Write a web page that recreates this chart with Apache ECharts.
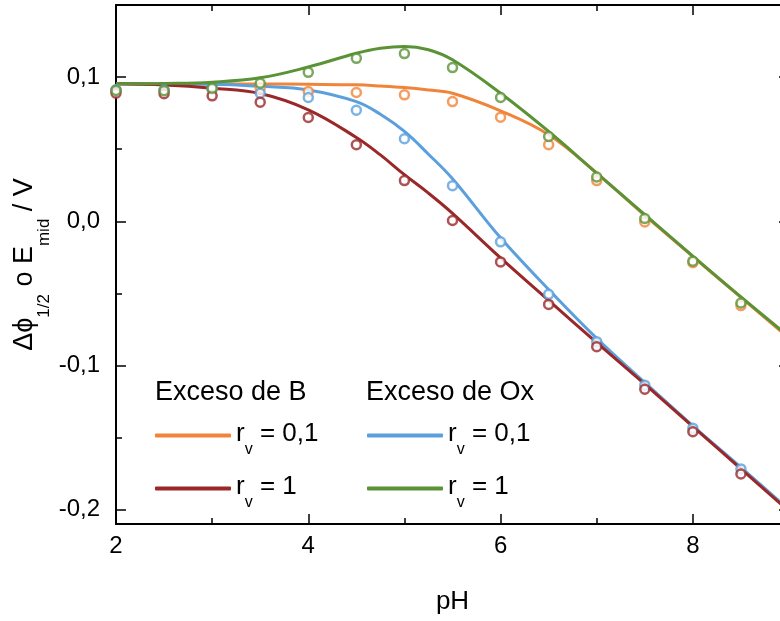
<!DOCTYPE html>
<html>
<head>
<meta charset="utf-8">
<script src="https://cdn.jsdelivr.net/npm/echarts@6/dist/echarts.min.js"></script>
<style>html,body{margin:0;padding:0;background:#fff}#c{width:780px;height:621px}</style>
</head>
<body>
<div id="c"></div>
<script>
const FONT = '"Liberation Sans", Arial, Helvetica, sans-serif';

// Axis ticks / labels
const xMajorTicks = [2, 4, 6, 8];
const xMinorTicks = [3, 5, 7];
const yMajorTicks = [-0.2, -0.1, 0, 0.1];
const yMinorTicks = [-0.15, -0.05, 0.05];

// Measured data points (pH)
const phPoints = [2, 2.5, 3, 3.5, 4, 4.5, 5, 5.5, 6, 6.5, 7, 7.5, 8, 8.5];
const ptsB01  = [0.0910, 0.0905, 0.0915, 0.0925, 0.0900, 0.0893, 0.0877, 0.0830, 0.0722, 0.0531, 0.0282, -0.0005, -0.0288, -0.0585];
const ptsB1   = [0.0888, 0.0884, 0.0870, 0.0826, 0.0720, 0.0531, 0.0282, 0.0005, -0.0282, -0.0577, -0.0870, -0.1165, -0.1460, -0.1753];
const ptsOx01 = [0.0912, 0.0910, 0.0918, 0.0888, 0.0858, 0.0770, 0.0572, 0.0247, -0.0143, -0.0507, -0.0835, -0.1137, -0.1435, -0.1718];
const ptsOx1  = [0.0907, 0.0905, 0.0923, 0.0957, 0.1033, 0.1130, 0.1163, 0.1066, 0.0858, 0.0588, 0.0307, 0.0019, -0.0277, -0.0567];

// Fitted curves
const phLine   = [2, 2.5, 3, 3.5, 4, 4.5, 4.75, 5, 5.25, 5.5, 6, 6.5, 7, 7.5, 8, 8.5, 9];
const lineB01  = [0.0953, 0.0953, 0.0953, 0.0952, 0.0950, 0.0946, 0.0938, 0.0927, 0.0910, 0.0888, 0.0766, 0.0600, 0.0334, 0.0040, -0.0245, -0.0528, -0.0810];
const lineB1   = [0.0953, 0.0945, 0.0923, 0.0886, 0.0773, 0.0581, 0.0460, 0.0323, 0.0195, 0.0055, -0.0254, -0.0549, -0.0842, -0.1130, -0.1424, -0.1718, -0.2010];
const lineOx01 = [0.0953, 0.0952, 0.0950, 0.0936, 0.0911, 0.0830, 0.0742, 0.0623, 0.0465, 0.0295, -0.0115, -0.0473, -0.0812, -0.1119, -0.1419, -0.1707, -0.2000];
const lineOx1  = [0.0953, 0.0956, 0.0965, 0.0995, 0.1070, 0.1165, 0.1200, 0.1213, 0.1190, 0.1120, 0.0888, 0.0623, 0.0334, 0.0046, -0.0242, -0.0525, -0.0800];

const COL_B01 = '#F0843A';
const COL_B1 = '#9A2828';
const COL_OX01 = '#5BA0DC';
const COL_OX1 = '#5A9236';

const pairs = (xs, ys) => xs.map((x, i) => [x, ys[i]]);

const chart = echarts.init(document.getElementById('c'));

const commonX = { type: 'value', min: 2, max: 9, gridIndex: 0, splitLine: { show: false } };
const commonY = { type: 'value', min: -0.21, max: 0.15, gridIndex: 0, splitLine: { show: false } };
const tickStyle = { color: '#000', width: 1.5 };

function lineSeries(name, ys, color) {
  return {
    name: name, type: 'line', data: pairs(phLine, ys), xAxisIndex: 0, yAxisIndex: 0,
    smooth: 0.4, symbol: 'none', showSymbol: false, color: color,
    lineStyle: { color: color, width: 3 }, silent: true, z: 2
  };
}
function pointSeries(name, ys, color) {
  return {
    name: name, type: 'scatter', data: pairs(phPoints, ys), xAxisIndex: 0, yAxisIndex: 0,
    symbol: 'circle', symbolSize: 9,
    itemStyle: { color: '#fff', borderColor: color, borderWidth: 2.5 }, silent: true, z: 3
  };
}

const legendRich = {
  r: { fontSize: 26, fontFamily: FONT, color: '#000', verticalAlign: 'top', padding: [8, 0, 11, 0] },
  v: { fontSize: 16, fontFamily: FONT, color: '#000', verticalAlign: 'bottom' }
};
const legendFmt = name => name.endsWith('01') ? '{r|r}{v|v}{r| = 0,1}' : '{r|r}{v|v}{r| = 1}';

chart.setOption({
  animation: false,
  backgroundColor: '#fff',
  grid: { left: 116, top: 5, width: 673, height: 519, containLabel: false, outerBoundsMode: 'none' },
  title: [
    { text: 'Exceso de B', left: 155, top: 379, padding: 0,
      textStyle: { fontSize: 27, fontWeight: 'normal', color: '#000', fontFamily: FONT } },
    { text: 'Exceso de Ox', left: 366, top: 379, padding: 0,
      textStyle: { fontSize: 27, fontWeight: 'normal', color: '#000', fontFamily: FONT } }
  ],
  legend: [
    { data: ['B_01', 'B_1'], orient: 'vertical', left: 155, top: 421, padding: 0, itemGap: 16,
      icon: 'roundRect', itemWidth: 76, itemHeight: 4, selectedMode: false,
      formatter: legendFmt, textStyle: { rich: legendRich } },
    { data: ['Ox_01', 'Ox_1'], orient: 'vertical', left: 367, top: 421, padding: 0, itemGap: 16,
      icon: 'roundRect', itemWidth: 76, itemHeight: 4, selectedMode: false,
      formatter: legendFmt, textStyle: { rich: legendRich } }
  ],
  xAxis: [
    Object.assign({}, commonX, {
      position: 'bottom',
      axisLine: { show: true, onZero: false, lineStyle: { color: '#000', width: 2 } },
      axisTick: { show: true, inside: true, length: 10, lineStyle: tickStyle, customValues: xMajorTicks },
      axisLabel: { show: true, customValues: xMajorTicks, fontSize: 24, color: '#000', margin: 10, fontFamily: FONT },
      name: 'pH', nameLocation: 'middle', nameGap: 65, nameMoveOverlap: false,
      nameTextStyle: { fontSize: 26, color: '#000', fontFamily: FONT }
    }),
    Object.assign({}, commonX, {
      position: 'bottom',
      axisLine: { show: false, onZero: false },
      axisTick: { show: true, inside: true, length: 6, lineStyle: tickStyle, customValues: xMinorTicks },
      axisLabel: { show: false }
    }),
    Object.assign({}, commonX, {
      position: 'top',
      axisLine: { show: true, onZero: false, lineStyle: { color: '#000', width: 2 } },
      axisTick: { show: true, inside: true, length: 10, lineStyle: tickStyle, customValues: xMajorTicks },
      axisLabel: { show: false }
    }),
    Object.assign({}, commonX, {
      position: 'top',
      axisLine: { show: false, onZero: false },
      axisTick: { show: true, inside: true, length: 6, lineStyle: tickStyle, customValues: xMinorTicks },
      axisLabel: { show: false }
    })
  ],
  yAxis: [
    Object.assign({}, commonY, {
      position: 'left',
      axisLine: { show: true, onZero: false, lineStyle: { color: '#000', width: 2 } },
      axisTick: { show: true, inside: true, length: 10, lineStyle: tickStyle, customValues: yMajorTicks },
      axisLabel: { show: true, customValues: yMajorTicks, fontSize: 24, color: '#000', margin: 16, fontFamily: FONT,
        formatter: v => v.toFixed(1).replace('.', ',') },
      name: '{a|Δϕ}{s|1/2}{a| o E}{s|mid}{a| / V}',
      nameLocation: 'middle', nameGap: 63, nameMoveOverlap: false,
      nameTextStyle: {
        color: '#000', fontFamily: FONT,
        rich: {
          a: { fontSize: 27, fontFamily: FONT, color: '#000', verticalAlign: 'top', padding: [8, 0, 15, 0] },
          s: { fontSize: 17, fontFamily: FONT, color: '#000', verticalAlign: 'bottom' }
        }
      }
    }),
    Object.assign({}, commonY, {
      position: 'left',
      axisLine: { show: false, onZero: false },
      axisTick: { show: true, inside: true, length: 6, lineStyle: tickStyle, customValues: yMinorTicks },
      axisLabel: { show: false }
    }),
    Object.assign({}, commonY, {
      position: 'right',
      axisLine: { show: true, onZero: false, lineStyle: { color: '#000', width: 2 } },
      axisTick: { show: true, inside: true, length: 10, lineStyle: tickStyle, customValues: yMajorTicks },
      axisLabel: { show: false }
    }),
    Object.assign({}, commonY, {
      position: 'right',
      axisLine: { show: false, onZero: false },
      axisTick: { show: true, inside: true, length: 6, lineStyle: tickStyle, customValues: yMinorTicks },
      axisLabel: { show: false }
    })
  ],
  series: [
    lineSeries('B_01', lineB01, COL_B01),
    lineSeries('Ox_01', lineOx01, COL_OX01),
    lineSeries('B_1', lineB1, COL_B1),
    lineSeries('Ox_1', lineOx1, COL_OX1),
    pointSeries('pts B 0,1', ptsB01, COL_B01),
    pointSeries('pts Ox 0,1', ptsOx01, COL_OX01),
    pointSeries('pts B 1', ptsB1, COL_B1),
    pointSeries('pts Ox 1', ptsOx1, COL_OX1)
  ]
});
</script>
</body>
</html>
